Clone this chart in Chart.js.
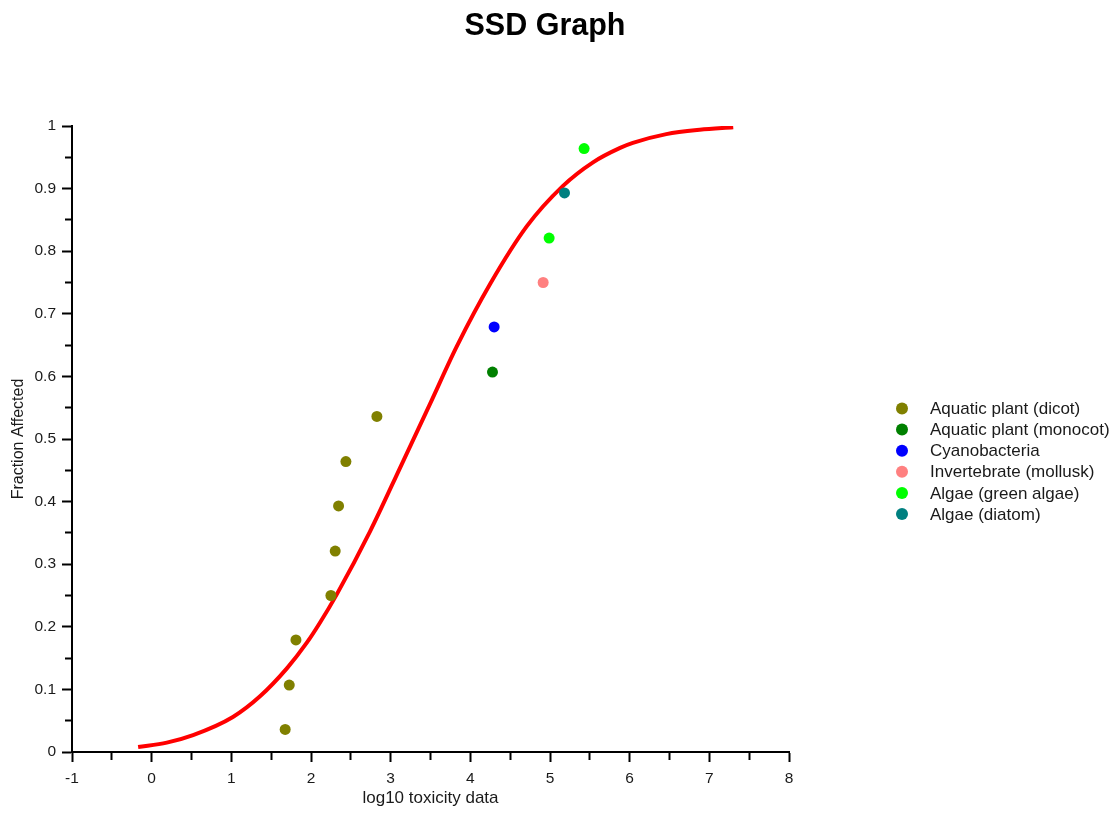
<!DOCTYPE html>
<html>
<head>
<meta charset="utf-8">
<script src="https://cdn.jsdelivr.net/npm/chart.js@4/dist/chart.umd.min.js"></script>
<style>
  html, body { margin: 0; padding: 0; background: #ffffff; }
  #wrap { width: 1118px; height: 813px; }
</style>
</head>
<body>
<div id="wrap"><canvas id="c" width="1118" height="813"></canvas></div>
<script>
// ---- Data ----
const chartTitle = "SSD Graph";
const xAxisTitle = "log10 toxicity data";
const yAxisTitle = "Fraction Affected";

const categories = [
  "Aquatic plant (dicot)",
  "Aquatic plant (monocot)",
  "Cyanobacteria",
  "Invertebrate (mollusk)",
  "Algae (green algae)",
  "Algae (diatom)"
];
const categoryColors = ["#808000", "#008000", "#0000ff", "#ff8080", "#00ff00", "#008080"];

// Observed points (log10 toxicity, fraction affected) per category
const dicotX = [1.676, 1.727, 1.811, 2.250, 2.304, 2.346, 2.438, 2.827];
const dicotY = [0.036, 0.107, 0.179, 0.250, 0.321, 0.393, 0.464, 0.536];
const monocotX = [4.278];
const monocotY = [0.607];
const cyanoX = [4.299];
const cyanoY = [0.679];
const molluskX = [4.914];
const molluskY = [0.750];
const greenAlgaeX = [4.989, 5.428];
const greenAlgaeY = [0.821, 0.964];
const diatomX = [5.182];
const diatomY = [0.893];

// Fitted SSD curve
const curveX = [-0.17, 0.19, 0.52, 1.02, 1.36, 1.70, 1.95, 2.11, 2.32, 2.74, 3.14, 3.49, 3.83, 4.25, 4.71, 5.16, 5.54, 5.88, 6.04, 6.46, 6.88, 7.30];
const curveY = [0.008, 0.015, 0.027, 0.056, 0.089, 0.134, 0.175, 0.206, 0.251, 0.352, 0.460, 0.555, 0.648, 0.748, 0.840, 0.904, 0.942, 0.965, 0.973, 0.987, 0.994, 0.998];

const xMin = -1, xMax = 8, xStep = 0.5;
const yMin = 0, yMax = 1, yStep = 0.05;

// ---- Build chart ----
const seriesX = [dicotX, monocotX, cyanoX, molluskX, greenAlgaeX, diatomX];
const seriesY = [dicotY, monocotY, cyanoY, molluskY, greenAlgaeY, diatomY];
const toPts = (xs, ys) => xs.map((x, i) => ({ x: x, y: ys[i] }));

const datasets = categories.map((name, i) => ({
  label: name,
  data: toPts(seriesX[i], seriesY[i]),
  backgroundColor: categoryColors[i],
  borderColor: categoryColors[i],
  pointRadius: 5.5,
  pointBorderWidth: 0,
  showLine: false,
  order: 0
}));
datasets.push({
  label: "SSD curve",
  isCurve: true,
  data: toPts(curveX, curveY),
  borderColor: "#ff0000",
  backgroundColor: "#ff0000",
  borderWidth: 4,
  pointRadius: 0,
  showLine: true,
  cubicInterpolationMode: "monotone",
  order: 1
});

const FONT = "'Liberation Sans', Arial, sans-serif";
const TEXT = "#1a1a1a";

const customLegend = {
  id: "customLegend",
  afterDraw(chart) {
    const ctx = chart.ctx;
    const ca = chart.chartArea;
    const x0 = ca.right + 113;
    const y0 = 408.5;
    const dy = 21.1;
    ctx.save();
    ctx.font = "17px " + FONT;
    ctx.textBaseline = "middle";
    ctx.textAlign = "left";
    let row = 0;
    chart.data.datasets.forEach(ds => {
      if (ds.isCurve) return;
      const y = y0 + row * dy;
      ctx.beginPath();
      ctx.arc(x0, y, 6, 0, Math.PI * 2);
      ctx.fillStyle = ds.backgroundColor;
      ctx.fill();
      ctx.fillStyle = TEXT;
      ctx.fillText(ds.label, x0 + 28, y + 1);
      row++;
    });
    ctx.restore();
  }
};

new Chart(document.getElementById("c"), {
  type: "scatter",
  data: { datasets: datasets },
  plugins: [customLegend],
  options: {
    responsive: false,
    devicePixelRatio: 1,
    animation: false,
    events: [],
    layout: { padding: { left: 0, right: 28, top: 0, bottom: 0 } },
    plugins: {
      legend: { display: false },
      tooltip: { enabled: false },
      title: {
        display: true,
        text: chartTitle,
        color: "#000",
        font: { family: FONT, size: 30.5, weight: "bold" },
        padding: { top: 8, bottom: 81.4 }
      }
    },
    scales: {
      x: {
        type: "linear",
        position: "bottom",
        min: xMin, max: xMax,
        afterFit: s => { s.height = 61; },
        border: { display: true, color: "#000", width: 2 },
        grid: {
          drawOnChartArea: false,
          drawTicks: true,
          tickLength: 10,
          tickWidth: 2,
          tickColor: "#000",
          tickBorderDash: c => (c.tick && Math.round(c.tick.value * 2) % 2 !== 0) ? [7, 100] : []
        },
        ticks: {
          stepSize: xStep,
          autoSkip: false,
          maxRotation: 0,
          padding: 7,
          color: TEXT,
          font: { family: FONT, size: 15.5 },
          callback: v => (Math.round(v * 2) % 2 === 0 ? String(Math.round(v)) : "")
        },
        title: {
          display: true,
          text: xAxisTitle,
          color: TEXT,
          font: { family: FONT, size: 17 },
          padding: { top: 0, bottom: 4 }
        }
      },
      y: {
        type: "linear",
        position: "left",
        min: yMin, max: yMax,
        afterFit: s => { s.width = 72; },
        border: { display: true, color: "#000", width: 2 },
        grid: {
          drawOnChartArea: false,
          drawTicks: true,
          tickLength: 10,
          tickWidth: 2,
          tickColor: "#000",
          tickBorderDash: c => (c.tick && Math.round(c.tick.value * 100) % 10 !== 0) ? [0, 3, 30, 0] : []
        },
        ticks: {
          stepSize: yStep,
          autoSkip: false,
          padding: 6,
          color: TEXT,
          font: { family: FONT, size: 15.5 },
          callback: v => {
            const h = Math.round(v * 100);
            return h % 10 === 0 ? String(h / 100) : "";
          }
        },
        title: {
          display: true,
          text: yAxisTitle,
          color: TEXT,
          font: { family: FONT, size: 16 },
          padding: { top: 9, bottom: 0 }
        }
      },
      yRight: {
        type: "linear",
        position: "right",
        display: true,
        afterFit: s => { s.width = 301; },
        border: { display: false },
        grid: { display: false },
        ticks: { display: false }
      }
    }
  }
});
</script>
</body>
</html>
